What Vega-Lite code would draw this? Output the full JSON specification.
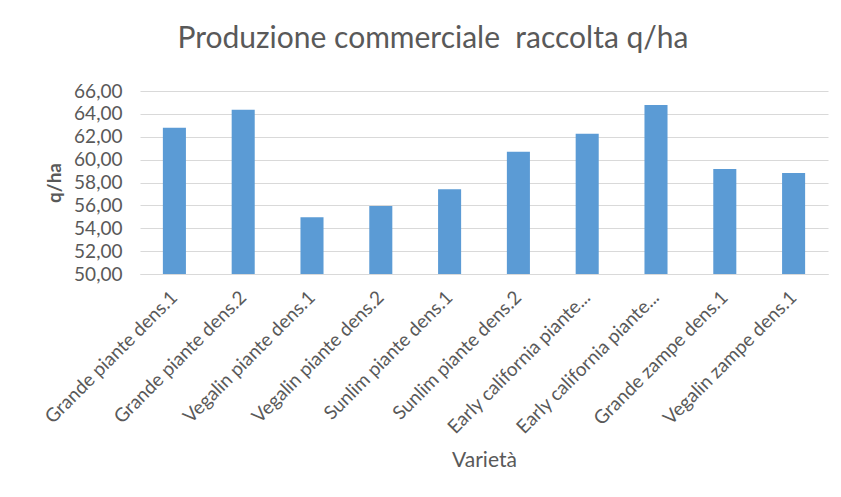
{
  "$schema": "https://vega.github.io/schema/vega-lite/v6.json",
  "width": 688,
  "height": 183,
  "autosize": {"type": "none"},
  "padding": {"left": 140, "top": 91, "right": 13, "bottom": 223},
  "background": "white",
  "config": {
    "font": "Lato",
    "view": {"stroke": null}
  },
  "title": {
    "text": "Produzione commerciale\u00a0 raccolta q/ha",
    "frame": "group",
    "anchor": "middle",
    "dx": -51,
    "offset": 4,
    "baseline": "alphabetic",
    "font": "Lato",
    "fontSize": 30,
    "fontWeight": "normal",
    "color": "#595959"
  },
  "data": {
    "values": [
      {"varieta": "Grande piante dens.1", "qha": 62.78},
      {"varieta": "Grande piante dens.2", "qha": 64.36},
      {"varieta": "Vegalin piante dens.1", "qha": 54.96},
      {"varieta": "Vegalin piante dens.2", "qha": 55.95},
      {"varieta": "Sunlim piante dens.1", "qha": 57.42},
      {"varieta": "Sunlim piante dens.2", "qha": 60.68},
      {"varieta": "Early california piante dens.1", "qha": 62.26},
      {"varieta": "Early california piante dens.2", "qha": 64.77},
      {"varieta": "Grande zampe dens.1", "qha": 59.17},
      {"varieta": "Vegalin zampe dens.1", "qha": 58.82}
    ]
  },
  "mark": {"type": "bar", "color": "#5B9BD5", "clip": true},
  "encoding": {
    "x": {
      "field": "varieta",
      "type": "nominal",
      "sort": null,
      "scale": {"paddingInner": 0.665, "paddingOuter": 0.3325},
      "axis": {
        "title": "Varietà",
        "titleFont": "Lato",
        "titleFontSize": 21,
        "titleFontWeight": "normal",
        "titleColor": "#595959",
        "titleY": 186,
        "titleBaseline": "middle",
        "labelAngle": -45,
        "labelAlign": "right",
        "labelBaseline": "middle",
        "labelFont": "Lato",
        "labelFontSize": 19,
        "labelColor": "#595959",
        "labelPadding": 20,
        "labelLimit": 400,
        "labelExpr": "length(datum.label) > 26 ? substring(datum.label, 0, 23) + '...' : datum.label",
        "ticks": false,
        "domainColor": "#d9d9d9",
        "domainWidth": 1,
        "grid": false
      }
    },
    "y": {
      "field": "qha",
      "type": "quantitative",
      "scale": {"domain": [50, 66], "nice": false, "zero": false},
      "axis": {
        "title": "q/ha",
        "titleFont": "Lato",
        "titleFontSize": 19,
        "titleFontWeight": "bold",
        "titleColor": "#595959",
        "titleAngle": -90,
        "titleX": -86,
        "titleY": 91.5,
        "titleAlign": "center",
        "titleBaseline": "middle",
        "values": [50, 52, 54, 56, 58, 60, 62, 64, 66],
        "labelExpr": "replace(format(datum.value, '.2f'), '.', ',')",
        "labelFont": "Lato",
        "labelFontSize": 19,
        "labelColor": "#595959",
        "labelPadding": 18,
        "ticks": false,
        "domain": false,
        "grid": true,
        "gridColor": "#d9d9d9",
        "gridWidth": 1
      }
    }
  }
}
